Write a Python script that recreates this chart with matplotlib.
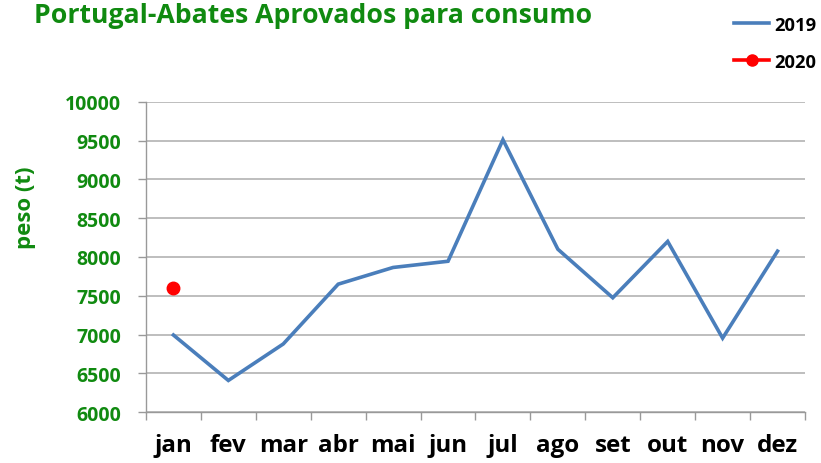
import matplotlib
matplotlib.use("Agg")
import matplotlib.pyplot as plt
from matplotlib.lines import Line2D
import numpy as np

months = ["jan", "fev", "mar", "abr", "mai", "jun", "jul", "ago", "set", "out", "nov", "dez"]
s2019 = [6995, 6410, 6880, 7650, 7865, 7945, 9510, 8100, 7475, 8200, 6955, 8075]
s2020 = [7605]
yticks = [6000, 6500, 7000, 7500, 8000, 8500, 9000, 9500, 10000]

GREEN = "#108a10"
BLUE = "#4a7ebb"
FONT = ["Open Sans", "DejaVu Sans"]
plt.rcParams['font.family'] = FONT

fig = plt.figure(figsize=(8.21, 4.64), dpi=100)
ax = fig.add_axes([0.1778, 0.1093, 0.8027, 0.6694])

x = np.arange(len(months))
ax.plot(x, s2019, color=BLUE, lw=2.6, solid_joinstyle="miter")
ax.plot(x[:len(s2020)], s2020, color="#ff0000", marker="o", ms=9, lw=2.6, ls="none")

ax.set_xlim(-0.5, len(months) - 0.5)
ax.set_ylim(6000, 10000)
ax.set_yticks(yticks)
ax.set_yticklabels([str(v) for v in yticks], color=GREEN, fontsize=14, fontweight="bold")
ax.yaxis.grid(True, color="#b3b3b3", lw=1.2)
ax.set_axisbelow(True)

ax.set_xticks(x)
ax.set_xticklabels(months, fontsize=17.4, fontweight="bold", color="black")
ax.tick_params(axis="x", length=0, pad=15)
ax.set_xticks(np.arange(-0.5, len(months)), minor=True)
ax.tick_params(axis="x", which="minor", length=6, color="#999999", width=1)
ax.tick_params(axis="y", length=6, color="#999999", width=1, pad=12)

for s in ["top", "right"]:
    ax.spines[s].set_visible(False)
for s in ["left", "bottom"]:
    ax.spines[s].set_color("#999999")
    ax.spines[s].set_linewidth(1)

fig.text(25 / 821, 1 - 208 / 464, "peso (t)", color=GREEN, fontsize=16, fontweight="bold",
         rotation=90, ha="center", va="center")

fig.text(0.042, 0.965, "Portugal-Abates Aprovados para consumo", color=GREEN,
         fontsize=19.2, fontweight="bold", va="center", ha="left")

handles = [Line2D([0], [0], color=BLUE, lw=2.6),
           Line2D([0], [0], color="#ff0000", lw=2.6, marker="o", ms=8)]
leg = fig.legend(handles, ["2019", "2020"], loc="upper right", bbox_to_anchor=(1.015, 1.0),
                 frameon=False, prop={"weight": "bold", "size": 13.2},
                 handlelength=1.9, labelspacing=1.05, handletextpad=0.3)

fig.savefig("out.png", dpi=100)
